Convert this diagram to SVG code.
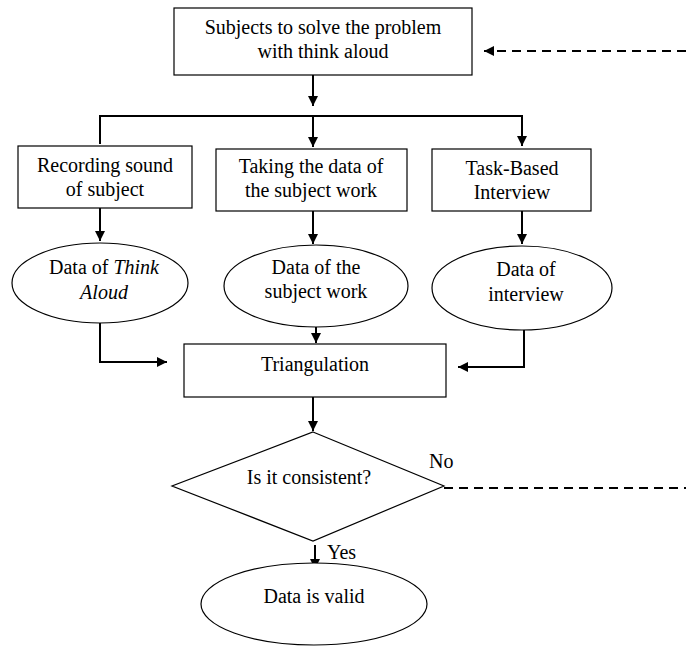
<svg xmlns="http://www.w3.org/2000/svg" width="686" height="648" viewBox="0 0 686 648">
<defs>
<marker id="ah" viewBox="0 0 10 10" refX="10" refY="5" markerWidth="10" markerHeight="10" markerUnits="userSpaceOnUse" orient="auto">
<path d="M0,0 L10,5 L0,10 z" fill="#000"/>
</marker>
</defs>
<style>
.box{fill:#fff;stroke:#000;stroke-width:1.2}
.t{font-family:'Liberation Serif','DejaVu Serif',serif;font-size:20px;fill:#000;text-anchor:middle}
.c{fill:none;stroke:#000;stroke-width:2}
.d{fill:none;stroke:#000;stroke-width:2;stroke-dasharray:9,6}
</style>
<rect width="686" height="648" fill="#fff"/>
<g id="connectors">
<path class="c" d="M313,75 V106" marker-end="url(#ah)"/>
<path class="c" d="M100,144 V116 H522 V146" marker-end="url(#ah)"/>
<path class="c" d="M313,116 V147" marker-end="url(#ah)"/>
<path class="c" d="M100,208 V241" marker-end="url(#ah)"/>
<path class="c" d="M313,211 V244" marker-end="url(#ah)"/>
<path class="c" d="M522,211 V244" marker-end="url(#ah)"/>
<path class="c" d="M100,323 V362 H167" marker-end="url(#ah)"/>
<path class="c" d="M316,327 V343" marker-end="url(#ah)"/>
<path class="c" d="M524,330 V367 H458" marker-end="url(#ah)"/>
<path class="c" d="M313,397 V431" marker-end="url(#ah)"/>
<path class="c" d="M315,545 V569" marker-end="url(#ah)"/>
<path class="d" d="M444,488 H686"/>
<path class="d" d="M686,51 H484" marker-end="url(#ah)"/>
<text class="t" x="429" y="468" text-anchor="start" style="text-anchor:start">No</text>
<text class="t" x="327" y="559" text-anchor="start" style="text-anchor:start">Yes</text>
</g>
<g id="start">
<rect class="box" x="174" y="8" width="298" height="67"/>
<text class="t" x="323" y="34">Subjects to solve the problem</text>
<text class="t" x="323" y="58">with think aloud</text>
</g>
<g id="recording">
<rect class="box" x="18" y="146" width="174" height="62"/>
<text class="t" x="105" y="172">Recording sound</text>
<text class="t" x="105" y="196">of subject</text>
</g>
<g id="taking">
<rect class="box" x="216" y="149" width="191" height="62"/>
<text class="t" x="311" y="173">Taking the data of</text>
<text class="t" x="311" y="197">the subject work</text>
</g>
<g id="interview">
<rect class="box" x="432" y="149" width="159" height="62"/>
<text class="t" x="512" y="175">Task-Based</text>
<text class="t" x="512" y="199">Interview</text>
</g>
<g id="data-think">
<ellipse class="box" cx="100" cy="283" rx="88" ry="40"/>
<text class="t" x="104" y="274">Data of <tspan font-style="italic">Think</tspan></text>
<text class="t" x="104" y="299" font-style="italic">Aloud</text>
</g>
<g id="data-work">
<ellipse class="box" cx="316" cy="286" rx="92" ry="41"/>
<text class="t" x="316" y="274">Data of the</text>
<text class="t" x="316" y="298">subject work</text>
</g>
<g id="data-interview">
<ellipse class="box" cx="522" cy="288" rx="90" ry="42"/>
<text class="t" x="526" y="276">Data of</text>
<text class="t" x="526" y="301">interview</text>
</g>
<g id="triangulation">
<rect class="box" x="184" y="344" width="262" height="53"/>
<text class="t" x="315" y="371">Triangulation</text>
</g>
<g id="decision">
<polygon class="box" points="313,432 444,486 313,541 172,486"/>
<text class="t" x="309" y="484">Is it consistent?</text>
</g>
<g id="valid">
<ellipse class="box" cx="314" cy="604" rx="113" ry="41"/>
<text class="t" x="314" y="603">Data is valid</text>
</g>
</svg>
